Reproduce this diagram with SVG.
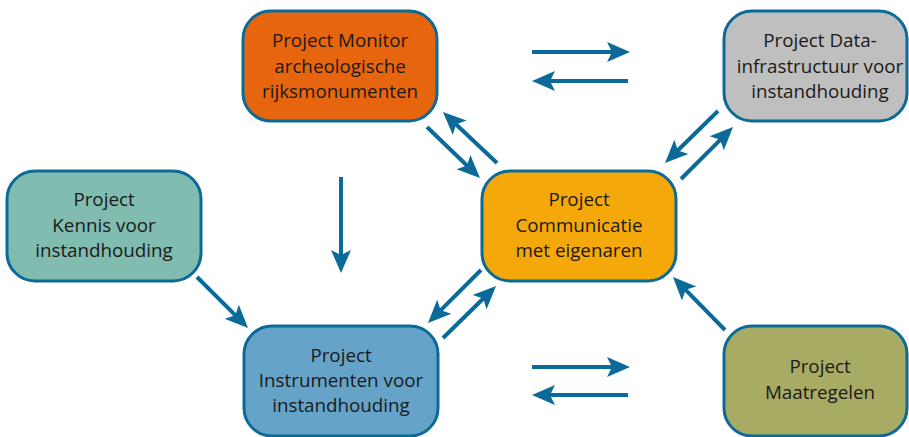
<svg xmlns="http://www.w3.org/2000/svg" width="909" height="437" viewBox="0 0 909 437">
<style>
.box{stroke:#0B6A97;stroke-width:3}
.t{font-family:"Open Sans","Noto Sans",sans-serif;font-size:18.8px;fill:#1a1a1a;text-anchor:middle}
.c{stroke:#0B6A97;stroke-width:4;fill:none;marker-end:url(#ah)}
</style>
<defs>
<marker id="ah" markerUnits="userSpaceOnUse" markerWidth="40" markerHeight="40" refX="0" refY="0" orient="auto" overflow="visible">
<path d="M16,0 L-7,-10 L-2,0 L-7,10 Z" fill="#0B6A97"/>
</marker>
</defs>
<rect width="909" height="437" fill="#ffffff"/>
<g id="connectors">
<line class="c" x1="532" y1="52" x2="614" y2="52"/>
<line class="c" x1="628" y1="81" x2="548" y2="81"/>
<line class="c" x1="532" y1="367" x2="614" y2="367"/>
<line class="c" x1="628" y1="395" x2="548" y2="395"/>
<line class="c" x1="341" y1="177" x2="341" y2="257"/>
<line class="c" x1="197" y1="277" x2="236.7" y2="316.7"/>
<line class="c" x1="427" y1="127" x2="468.5" y2="167"/>
<line class="c" x1="497" y1="163" x2="454.6" y2="123"/>
<line class="c" x1="718" y1="111" x2="676.4" y2="151.8"/>
<line class="c" x1="681" y1="179" x2="721.7" y2="138.3"/>
<line class="c" x1="481" y1="270" x2="439.3" y2="311.7"/>
<line class="c" x1="443" y1="338" x2="484.6" y2="297.2"/>
<line class="c" x1="725" y1="330" x2="684.2" y2="288.4"/>
</g>
<g id="monitor">
<rect class="box" x="243" y="11" width="194" height="110" rx="28" fill="#E8650F"/>
<text class="t" x="340" y="47">Project Monitor</text>
<text class="t" x="340" y="72.5">archeologische</text>
<text class="t" x="340" y="98">rijksmonumenten</text>
</g>
<g id="data">
<rect class="box" x="724" y="11" width="183" height="110" rx="28" fill="#BFBFBF"/>
<text class="t" x="820" y="47">Project Data-</text>
<text class="t" x="820" y="72.5">infrastructuur voor</text>
<text class="t" x="820" y="98">instandhouding</text>
</g>
<g id="kennis">
<rect class="box" x="7" y="171" width="194" height="110" rx="28" fill="#80BCB0"/>
<text class="t" x="104" y="206">Project</text>
<text class="t" x="104" y="232">Kennis voor</text>
<text class="t" x="104" y="257">instandhouding</text>
</g>
<g id="communicatie">
<rect class="box" x="482" y="171" width="194" height="110" rx="28" fill="#F5A80A"/>
<text class="t" x="579" y="206">Project</text>
<text class="t" x="579" y="232">Communicatie</text>
<text class="t" x="579" y="257">met eigenaren</text>
</g>
<g id="instrumenten">
<rect class="box" x="244" y="326" width="194" height="110" rx="28" fill="#66A3C9"/>
<text class="t" x="341" y="362">Project</text>
<text class="t" x="341" y="387">Instrumenten voor</text>
<text class="t" x="341" y="412">instandhouding</text>
</g>
<g id="maatregelen">
<rect class="box" x="724" y="326" width="183" height="110" rx="28" fill="#A7AB63"/>
<text class="t" x="820" y="373">Project</text>
<text class="t" x="820" y="399">Maatregelen</text>
</g>
</svg>
